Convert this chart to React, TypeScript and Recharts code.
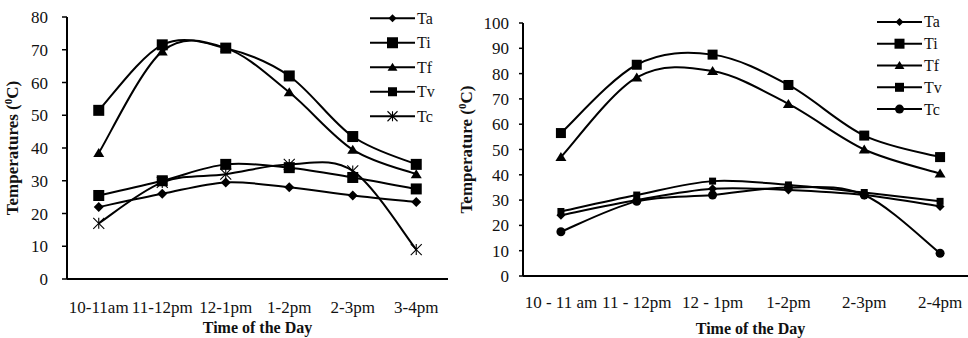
import { Label, Legend, Line, LineChart, XAxis, YAxis } from "recharts";

// left panel
const slotsLeft = ["10-11am", "11-12pm", "12-1pm", "1-2pm", "2-3pm", "3-4pm"];
const taLeft = [22, 26, 29.5, 28, 25.5, 23.5];
const tiLeft = [51.5, 71.5, 70.5, 62, 43.5, 35];
const tfLeft = [38.5, 69.5, 70.5, 57, 39.5, 32];
const tvLeft = [25.5, 30, 35, 34, 31, 27.5];
const tcLeft = [17, 29.5, 32, 35, 33, 9];
const ticksLeft = [0, 10, 20, 30, 40, 50, 60, 70, 80];

// right panel
const slotsRight = ["10 - 11 am", "11 - 12pm", "12 - 1pm", "1-2pm", "2-3pm", "2-4pm"];
const taRight = [24, 30, 34.5, 34, 32, 27.5];
const tiRight = [56.5, 83.5, 87.5, 75.5, 55.5, 47];
const tfRight = [47, 78.5, 81, 68, 50, 40.5];
const tvRight = [25.5, 32, 37.5, 36, 33, 29.5];
const tcRight = [17.5, 29.5, 32, 35, 32, 9];
const ticksRight = [0, 10, 20, 30, 40, 50, 60, 70, 80, 90, 100];

const seriesNames = ["Ta", "Ti", "Tf", "Tv", "Tc"];

const FONT = '"Liberation Serif", "Times New Roman", serif';
const INK = "#111";

type Shape = "diamond" | "square" | "triangle" | "star" | "circle";

type SeriesStyle = { key: string; shape: Shape; size: number; legendSize: number };

const leftStyles: SeriesStyle[] = [
  { key: "Ta", shape: "diamond", size: 5, legendSize: 4 },
  { key: "Ti", shape: "square", size: 5.5, legendSize: 5.5 },
  { key: "Tf", shape: "triangle", size: 5, legendSize: 4.5 },
  { key: "Tv", shape: "square", size: 5.5, legendSize: 4.5 },
  { key: "Tc", shape: "star", size: 5.5, legendSize: 5 },
];

const rightStyles: SeriesStyle[] = [
  { key: "Ta", shape: "diamond", size: 4.5, legendSize: 4 },
  { key: "Ti", shape: "square", size: 5, legendSize: 5 },
  { key: "Tf", shape: "triangle", size: 5, legendSize: 4.5 },
  { key: "Tv", shape: "square", size: 3.5, legendSize: 4.5 },
  { key: "Tc", shape: "circle", size: 4.5, legendSize: 4.5 },
];

const buildRows = (slots: string[], cols: number[][]) =>
  slots.map((slot, i) => {
    const row: Record<string, string | number> = { slot };
    seriesNames.forEach((name, j) => {
      row[name] = cols[j][i];
    });
    return row;
  });

const leftRows = buildRows(slotsLeft, [taLeft, tiLeft, tfLeft, tvLeft, tcLeft]);
const rightRows = buildRows(slotsRight, [taRight, tiRight, tfRight, tvRight, tcRight]);

// Excel-style smoothed line (Catmull-Rom through every point)
const excelCurve = (context: any) => {
  let pts: [number, number][] = [];
  return {
    areaStart() {},
    areaEnd() {},
    lineStart() {
      pts = [];
    },
    point(x: number, y: number) {
      pts.push([+x, +y]);
    },
    lineEnd() {
      if (!pts.length) return;
      context.moveTo(pts[0][0], pts[0][1]);
      for (let i = 0; i < pts.length - 1; i++) {
        const p0 = pts[Math.max(i - 1, 0)];
        const p1 = pts[i];
        const p2 = pts[i + 1];
        const p3 = pts[Math.min(i + 2, pts.length - 1)];
        context.bezierCurveTo(
          p1[0] + (p2[0] - p0[0]) / 6,
          p1[1] + (p2[1] - p0[1]) / 6,
          p2[0] - (p3[0] - p1[0]) / 6,
          p2[1] - (p3[1] - p1[1]) / 6,
          p2[0],
          p2[1],
        );
      }
    },
  };
};

const Marker = ({ shape, cx, cy, s }: { shape: Shape; cx: number; cy: number; s: number }) => {
  if (shape === "diamond") {
    return <polygon points={`${cx},${cy - s} ${cx + s},${cy} ${cx},${cy + s} ${cx - s},${cy}`} fill="#000" />;
  }
  if (shape === "square") {
    return <rect x={cx - s} y={cy - s} width={s * 2} height={s * 2} fill="#000" />;
  }
  if (shape === "triangle") {
    return (
      <polygon
        points={`${cx},${cy - s} ${cx + s * 1.1},${cy + s * 0.8} ${cx - s * 1.1},${cy + s * 0.8}`}
        fill="#000"
      />
    );
  }
  if (shape === "circle") {
    return <circle cx={cx} cy={cy} r={s} fill="#000" />;
  }
  return (
    <g stroke="#000" strokeWidth={1.1}>
      <line x1={cx - s} y1={cy - s} x2={cx + s} y2={cy + s} />
      <line x1={cx - s} y1={cy + s} x2={cx + s} y2={cy - s} />
      <line x1={cx} y1={cy - s} x2={cx} y2={cy + s} />
    </g>
  );
};

const LegendBox = ({ styles, rowH }: { styles: SeriesStyle[]; rowH: number }) => (
  <svg width={70} height={rowH * styles.length + 4} style={{ display: "block" }}>
    {styles.map((st, i) => {
      const cy = rowH / 2 + i * rowH + 2;
      return (
        <g key={st.key}>
          <line x1={0} x2={45} y1={cy} y2={cy} stroke="#000" strokeWidth={2} />
          <Marker shape={st.shape} cx={22.5} cy={cy} s={st.legendSize} />
          <text x={47} y={cy + 5.5} fontSize={16} fontFamily={FONT} fill={INK}>
            {st.key}
          </text>
        </g>
      );
    })}
  </svg>
);

type PanelProps = {
  rows: Record<string, string | number>[];
  styles: SeriesStyle[];
  ticks: number[];
  yTitle: string;
  width: number;
  top: number;
  bottom: number;
  yAxisWidth: number;
  yTickSize: number;
  yTickMargin: number;
  tickBase: number;
  titleBase: number;
  yTitleX: number;
  legendLeft: number;
  legendTop: number;
  legendRow: number;
};

const Panel = (p: PanelProps) => {
  // points sit in the middle of each category band, as in Excel
  const half = (p.width - p.yAxisWidth) / (2 * p.rows.length);
  return (
    <LineChart
      width={p.width}
      height={338}
      data={p.rows}
      margin={{ top: p.top, right: 0, bottom: p.bottom, left: 0 }}
    >
      <XAxis
        dataKey="slot"
        axisLine={{ stroke: "#000", strokeWidth: 2 }}
        tickLine={false}
        tickSize={0}
        tickMargin={0}
        height={50}
        interval={0}
        padding={{ left: half, right: half }}
        tick={(t: any) => (
          <text
            x={t.x}
            y={t.y + p.tickBase}
            textAnchor="middle"
            fontSize={17}
            fontFamily={FONT}
            fill={INK}
          >
            {t.payload.value}
          </text>
        )}
      >
        <Label
          content={(lp: any) => {
            const vb = lp.viewBox || {};
            return (
              <text
                x={vb.x + vb.width / 2}
                y={vb.y + p.titleBase}
                textAnchor="middle"
                fontSize={16}
                fontWeight="bold"
                fontFamily={FONT}
                fill={INK}
              >
                Time of the Day
              </text>
            );
          }}
        />
      </XAxis>
      <YAxis
        type="number"
        domain={[p.ticks[0], p.ticks[p.ticks.length - 1]]}
        ticks={p.ticks}
        interval={0}
        width={p.yAxisWidth}
        axisLine={{ stroke: "#000", strokeWidth: 2 }}
        tickLine={{ stroke: "#000", strokeWidth: 1.5 }}
        tickSize={p.yTickSize}
        tickMargin={p.yTickMargin}
        tick={{ fontSize: 17, fontFamily: FONT, fill: INK }}
      >
        <Label
          content={(lp: any) => {
            const vb = lp.viewBox || {};
            const cy = vb.y + vb.height / 2;
            return (
              <text
                transform={`translate(${p.yTitleX}, ${cy}) rotate(-90)`}
                textAnchor="middle"
                fontSize={17}
                fontWeight="bold"
                fontFamily={FONT}
                fill={INK}
              >
                {p.yTitle} (<tspan fontSize={11} dy={-6}>0</tspan>
                <tspan dy={6}>C)</tspan>
              </text>
            );
          }}
        />
      </YAxis>
      <Legend
        layout="vertical"
        align="center"
        verticalAlign="middle"
        wrapperStyle={{ left: p.legendLeft, top: p.legendTop, width: 70 }}
        content={() => <LegendBox styles={p.styles} rowH={p.legendRow} />}
      />
      {p.styles.map((st) => (
        <Line
          key={st.key}
          dataKey={st.key}
          name={st.key}
          type={excelCurve as any}
          stroke="#000"
          strokeWidth={2}
          isAnimationActive={false}
          activeDot={false}
          dot={(d: any) => (
            <g key={`${st.key}-${d.index}`}>
              <Marker shape={st.shape} cx={d.cx} cy={d.cy} s={st.size} />
            </g>
          )}
        />
      ))}
    </LineChart>
  );
};

export default function App() {
  return (
    <div
      style={{
        position: "absolute",
        left: 0,
        top: 0,
        width: 968,
        height: 338,
        overflow: "hidden",
        background: "#fff",
      }}
    >
      <div style={{ position: "absolute", left: 0, top: 0 }}>
        <Panel
          rows={leftRows}
          styles={leftStyles}
          ticks={ticksLeft}
          yTitle="Temperatures"
          width={448}
          top={17}
          bottom={9}
          yAxisWidth={67}
          yTickSize={5}
          yTickMargin={14}
          tickBase={34}
          titleBase={54}
          yTitleX={18}
          legendLeft={370}
          legendTop={4}
          legendRow={24.5}
        />
      </div>
      <div style={{ position: "absolute", left: 448, top: 0 }}>
        <Panel
          rows={rightRows}
          styles={rightStyles}
          ticks={ticksRight}
          yTitle="Temperature"
          width={530}
          top={23}
          bottom={12}
          yAxisWidth={75}
          yTickSize={4}
          yTickMargin={10}
          tickBase={32}
          titleBase={58}
          yTitleX={24}
          legendLeft={429}
          legendTop={9}
          legendRow={21.8}
        />
      </div>
    </div>
  );
}
